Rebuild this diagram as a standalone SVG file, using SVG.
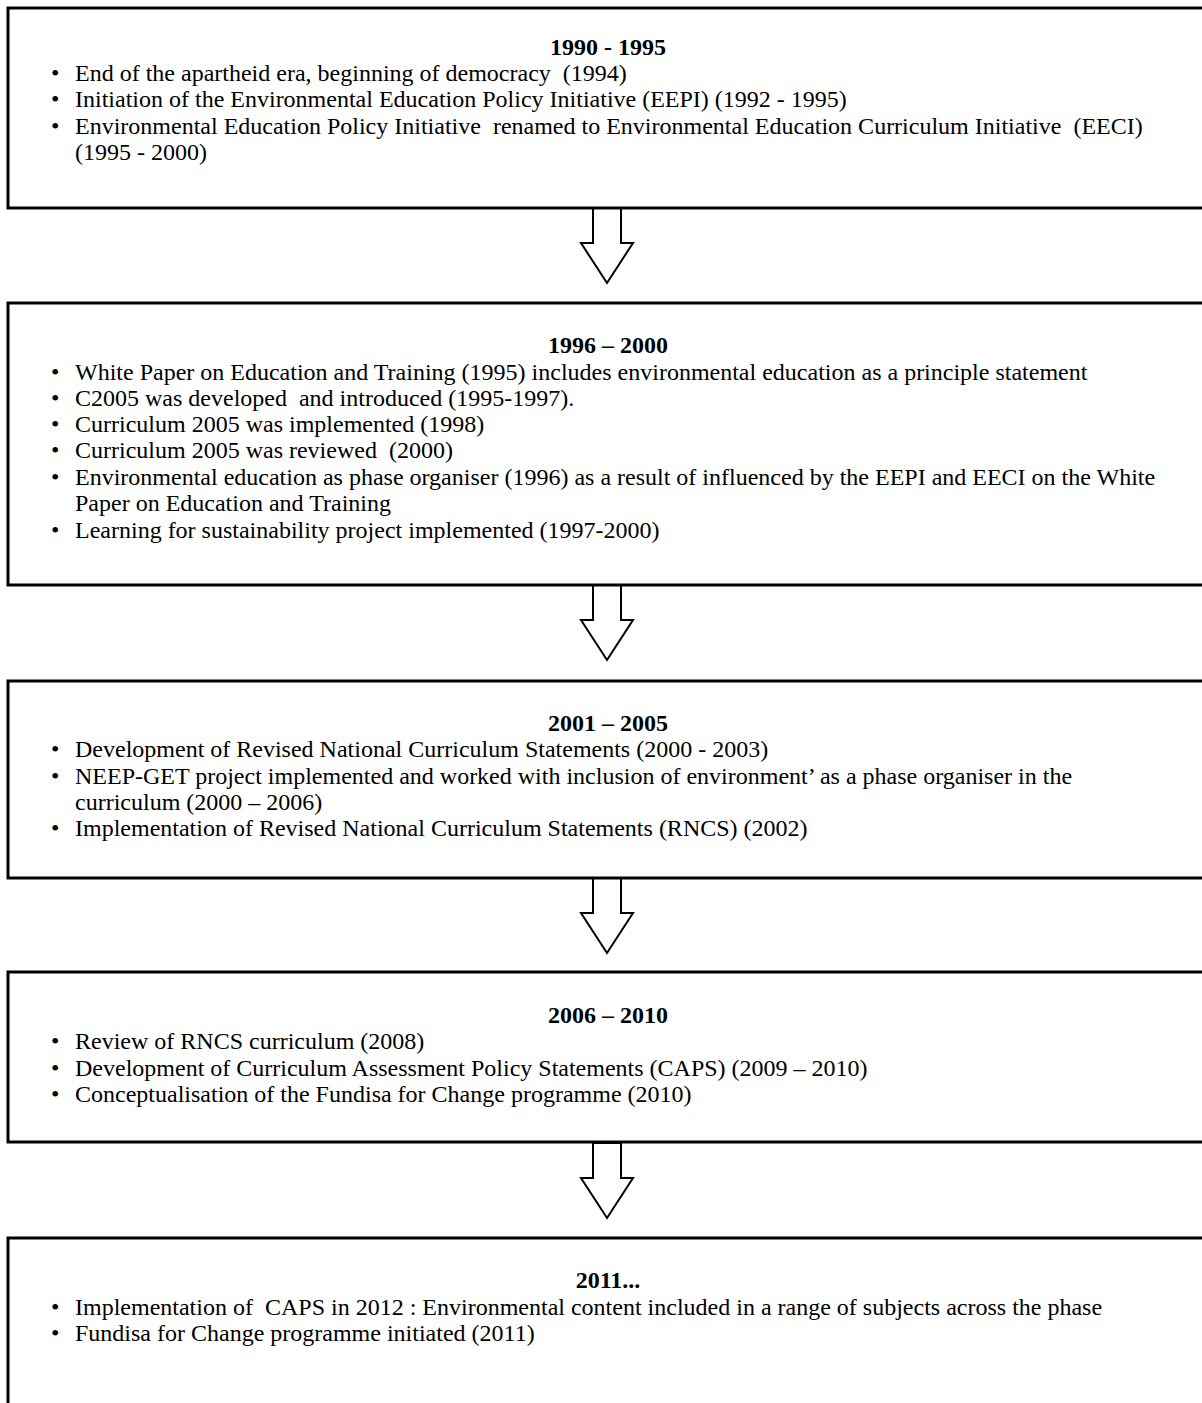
<svg xmlns="http://www.w3.org/2000/svg" width="1202" height="1403" viewBox="0 0 1202 1403">
<style>
.box{fill:#fff;stroke:#000;stroke-width:3}
.arr{fill:#fff;stroke:#000;stroke-width:2;stroke-linejoin:miter}
text{font-family:"Liberation Serif","Times New Roman",serif;font-size:24px;fill:#000;white-space:pre}
.t{font-weight:bold;text-anchor:middle}
</style>
<rect width="1202" height="1403" fill="#fff"/>
<g id="connectors">
<polygon class="arr" points="593,208 621,208 621,243 633,243 607,283 581,243 593,243"/>
<polygon class="arr" points="593,585 621,585 621,620 633,620 607,660 581,620 593,620"/>
<polygon class="arr" points="593,878 621,878 621,913 633,913 607,953 581,913 593,913"/>
<polygon class="arr" points="593,1143 621,1143 621,1178 633,1178 607,1218 581,1178 593,1178"/>
</g>
<g id="node1">
<rect class="box" x="8" y="8" width="1200" height="200"/>
<text class="t" x="608" y="55">1990 - 1995</text>
<text x="51" y="81">•</text><text x="75" y="81">End of the apartheid era, beginning of democracy  (1994)</text>
<text x="51" y="107">•</text><text x="75" y="107">Initiation of the Environmental Education Policy Initiative (EEPI) (1992 - 1995)</text>
<text x="51" y="134">•</text><text x="75" y="134">Environmental Education Policy Initiative  renamed to Environmental Education Curriculum Initiative  (EECI)</text>
<text x="75" y="160">(1995 - 2000)</text>
</g>
<g id="node2">
<rect class="box" x="8" y="303" width="1200" height="282"/>
<text class="t" x="608" y="353">1996 – 2000</text>
<text x="51" y="380">•</text><text x="75" y="380">White Paper on Education and Training (1995) includes environmental education as a principle statement</text>
<text x="51" y="406">•</text><text x="75" y="406">C2005 was developed  and introduced (1995-1997).</text>
<text x="51" y="432">•</text><text x="75" y="432">Curriculum 2005 was implemented (1998)</text>
<text x="51" y="458">•</text><text x="75" y="458">Curriculum 2005 was reviewed  (2000)</text>
<text x="51" y="485">•</text><text x="75" y="485">Environmental education as phase organiser (1996) as a result of influenced by the EEPI and EECI on the White</text>
<text x="75" y="511">Paper on Education and Training</text>
<text x="51" y="538">•</text><text x="75" y="538">Learning for sustainability project implemented (1997-2000)</text>
</g>
<g id="node3">
<rect class="box" x="8" y="681" width="1200" height="197"/>
<text class="t" x="608" y="731">2001 – 2005</text>
<text x="51" y="757">•</text><text x="75" y="757">Development of Revised National Curriculum Statements (2000 - 2003)</text>
<text x="51" y="784">•</text><text x="75" y="784">NEEP-GET project implemented and worked with inclusion of environment’ as a phase organiser in the</text>
<text x="75" y="810">curriculum (2000 – 2006)</text>
<text x="51" y="836">•</text><text x="75" y="836">Implementation of Revised National Curriculum Statements (RNCS) (2002)</text>
</g>
<g id="node4">
<rect class="box" x="8" y="972" width="1200" height="170"/>
<text class="t" x="608" y="1023">2006 – 2010</text>
<text x="51" y="1049">•</text><text x="75" y="1049">Review of RNCS curriculum (2008)</text>
<text x="51" y="1076">•</text><text x="75" y="1076">Development of Curriculum Assessment Policy Statements (CAPS) (2009 – 2010)</text>
<text x="51" y="1102">•</text><text x="75" y="1102">Conceptualisation of the Fundisa for Change programme (2010)</text>
</g>
<g id="node5">
<rect class="box" x="8" y="1238" width="1200" height="200"/>
<text class="t" x="608" y="1288">2011...</text>
<text x="51" y="1315">•</text><text x="75" y="1315">Implementation of  CAPS in 2012 : Environmental content included in a range of subjects across the phase</text>
<text x="51" y="1341">•</text><text x="75" y="1341">Fundisa for Change programme initiated (2011)</text>
</g>
</svg>
